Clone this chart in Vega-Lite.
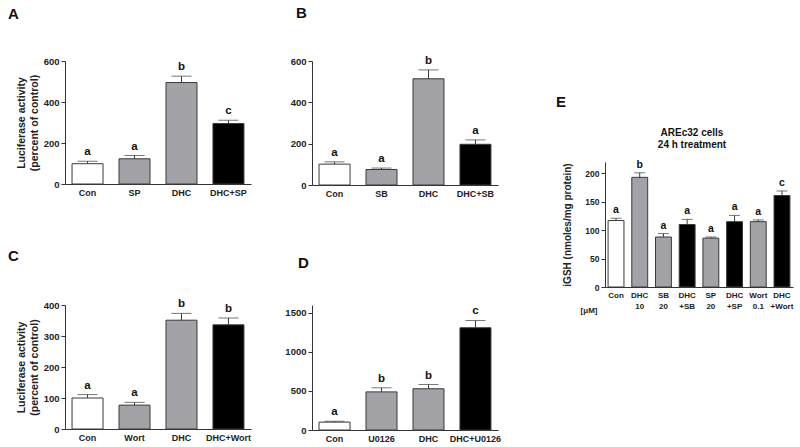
{
  "$schema": "https://vega.github.io/schema/vega-lite/v6.json",
  "background": "white",
  "padding": {"left": 8, "top": 5, "right": 5, "bottom": 5},
  "config": {
    "view": {"stroke": null},
    "font": "Liberation Sans",
    "axis": {"grid": false, "labelOverlap": false, "domainColor": "#333333", "tickColor": "#333333", "labelColor": "#222222", "titleColor": "#222222", "labelFont": "Liberation Sans", "titleFont": "Liberation Sans", "labelFontWeight": "bold", "titleFontWeight": "bold"},
    "title": {"font": "Liberation Sans", "fontWeight": "bold", "color": "#111111"}
  },
  "spacing": 55,
  "hconcat": [
    {
      "spacing": 33,
      "hconcat": [
        {
          "bounds": "flush",
          "spacing": 121,
          "vconcat": [
            {
              "width": 186, "height": 123,
              "title": {"text": "A", "anchor": "start", "frame": "group", "dx": -57, "offset": 22, "baseline": "alphabetic", "fontSize": 15},
              "data": {"values": [
                {"cat": "Con", "mean": 99, "upper": 111, "sig": "a", "kind": "control"},
                {"cat": "SP", "mean": 123, "upper": 139, "sig": "a", "kind": "single"},
                {"cat": "DHC", "mean": 495, "upper": 526, "sig": "b", "kind": "single"},
                {"cat": "DHC+SP", "mean": 295, "upper": 311, "sig": "c", "kind": "combo"}
              ]},
              "encoding": {"x": {"field": "cat", "type": "nominal", "sort": null, "scale": {"paddingInner": 0.34, "paddingOuter": 0.15}, "axis": {"title": null, "ticks": false, "labelAngle": 0, "labelFontSize": 9, "labelPadding": 4}}},
              "layer": [
                {"mark": {"type": "bar", "stroke": "#3a3a3a", "strokeWidth": 1},
                 "encoding": {
                   "y": {"field": "mean", "type": "quantitative", "scale": {"domain": [0, 600]}, "title": ["Luciferase activity", "(percent of control)"], "axis": {"values": [0, 200, 400, 600], "format": "d", "titleFontSize": 10.5, "titleLineHeight": 13, "titlePadding": 4, "labelFontSize": 9.5, "tickSize": 4, "labelPadding": 2}},
                   "fill": {"field": "kind", "type": "nominal", "scale": {"domain": ["control", "single", "combo"], "range": ["#ffffff", "#a2a2a7", "#000000"]}, "legend": null}}},
                {"mark": {"type": "rule", "color": "#3a3a3a"}, "encoding": {"y": {"field": "mean", "type": "quantitative", "title": ["Luciferase activity", "(percent of control)"], "axis": {"values": [0, 200, 400, 600], "format": "d", "titleFontSize": 10.5, "titleLineHeight": 13, "titlePadding": 4, "labelFontSize": 9.5, "tickSize": 4, "labelPadding": 2}}, "y2": {"field": "upper"}}},
                {"mark": {"type": "tick", "color": "#3a3a3a", "size": 20, "thickness": 1}, "encoding": {"y": {"field": "upper", "type": "quantitative", "title": ["Luciferase activity", "(percent of control)"], "axis": {"values": [0, 200, 400, 600], "format": "d", "titleFontSize": 10.5, "titleLineHeight": 13, "titlePadding": 4, "labelFontSize": 9.5, "tickSize": 4, "labelPadding": 2}}}},
                {"mark": {"type": "text", "fontWeight": "bold", "fontSize": 11.5, "baseline": "alphabetic", "dy": -6, "color": "#111111"}, "encoding": {"y": {"field": "upper", "type": "quantitative", "title": ["Luciferase activity", "(percent of control)"], "axis": {"values": [0, 200, 400, 600], "format": "d", "titleFontSize": 10.5, "titleLineHeight": 13, "titlePadding": 4, "labelFontSize": 9.5, "tickSize": 4, "labelPadding": 2}}, "text": {"field": "sig"}}}
              ]
            },
            {
              "width": 186, "height": 124,
              "title": {"text": "C", "anchor": "start", "frame": "group", "dx": -57, "offset": 22, "baseline": "alphabetic", "fontSize": 15},
              "data": {"values": [
                {"cat": "Con", "mean": 100, "upper": 111, "sig": "a", "kind": "control"},
                {"cat": "Wort", "mean": 77, "upper": 86, "sig": "a", "kind": "single"},
                {"cat": "DHC", "mean": 351, "upper": 373, "sig": "b", "kind": "single"},
                {"cat": "DHC+Wort", "mean": 336, "upper": 358, "sig": "b", "kind": "combo"}
              ]},
              "encoding": {"x": {"field": "cat", "type": "nominal", "sort": null, "scale": {"paddingInner": 0.34, "paddingOuter": 0.15}, "axis": {"title": null, "ticks": false, "labelAngle": 0, "labelFontSize": 9, "labelPadding": 4}}},
              "layer": [
                {"mark": {"type": "bar", "stroke": "#3a3a3a", "strokeWidth": 1},
                 "encoding": {
                   "y": {"field": "mean", "type": "quantitative", "scale": {"domain": [0, 400]}, "title": ["Luciferase activity", "(percent of control)"], "axis": {"values": [0, 100, 200, 300, 400], "format": "d", "titleFontSize": 10.5, "titleLineHeight": 13, "titlePadding": 4, "labelFontSize": 9.5, "tickSize": 4, "labelPadding": 2}},
                   "fill": {"field": "kind", "type": "nominal", "scale": {"domain": ["control", "single", "combo"], "range": ["#ffffff", "#a2a2a7", "#000000"]}, "legend": null}}},
                {"mark": {"type": "rule", "color": "#3a3a3a"}, "encoding": {"y": {"field": "mean", "type": "quantitative", "title": ["Luciferase activity", "(percent of control)"], "axis": {"values": [0, 100, 200, 300, 400], "format": "d", "titleFontSize": 10.5, "titleLineHeight": 13, "titlePadding": 4, "labelFontSize": 9.5, "tickSize": 4, "labelPadding": 2}}, "y2": {"field": "upper"}}},
                {"mark": {"type": "tick", "color": "#3a3a3a", "size": 20, "thickness": 1}, "encoding": {"y": {"field": "upper", "type": "quantitative", "title": ["Luciferase activity", "(percent of control)"], "axis": {"values": [0, 100, 200, 300, 400], "format": "d", "titleFontSize": 10.5, "titleLineHeight": 13, "titlePadding": 4, "labelFontSize": 9.5, "tickSize": 4, "labelPadding": 2}}}},
                {"mark": {"type": "text", "fontWeight": "bold", "fontSize": 11.5, "baseline": "alphabetic", "dy": -6, "color": "#111111"}, "encoding": {"y": {"field": "upper", "type": "quantitative", "title": ["Luciferase activity", "(percent of control)"], "axis": {"values": [0, 100, 200, 300, 400], "format": "d", "titleFontSize": 10.5, "titleLineHeight": 13, "titlePadding": 4, "labelFontSize": 9.5, "tickSize": 4, "labelPadding": 2}}, "text": {"field": "sig"}}}
              ]
            }
          ]
        },
        {
          "bounds": "flush",
          "spacing": 120,
          "vconcat": [
            {
              "width": 186, "height": 124,
              "title": {"text": "B", "anchor": "start", "frame": "group", "dx": -16, "offset": 22, "baseline": "alphabetic", "fontSize": 15},
              "data": {"values": [
                {"cat": "Con", "mean": 101, "upper": 112, "sig": "a", "kind": "control"},
                {"cat": "SB", "mean": 75, "upper": 82, "sig": "a", "kind": "single"},
                {"cat": "DHC", "mean": 514, "upper": 557, "sig": "b", "kind": "single"},
                {"cat": "DHC+SB", "mean": 197, "upper": 218, "sig": "a", "kind": "combo"}
              ]},
              "encoding": {"x": {"field": "cat", "type": "nominal", "sort": null, "scale": {"paddingInner": 0.34, "paddingOuter": 0.15}, "axis": {"title": null, "ticks": false, "labelAngle": 0, "labelFontSize": 9, "labelPadding": 4}}},
              "layer": [
                {"mark": {"type": "bar", "stroke": "#3a3a3a", "strokeWidth": 1},
                 "encoding": {
                   "y": {"field": "mean", "type": "quantitative", "scale": {"domain": [0, 600]}, "title": null, "axis": {"values": [0, 200, 400, 600], "format": "d", "labelFontSize": 9.5, "tickSize": 4, "labelPadding": 2}},
                   "fill": {"field": "kind", "type": "nominal", "scale": {"domain": ["control", "single", "combo"], "range": ["#ffffff", "#a2a2a7", "#000000"]}, "legend": null}}},
                {"mark": {"type": "rule", "color": "#3a3a3a"}, "encoding": {"y": {"field": "mean", "type": "quantitative", "title": null, "axis": {"values": [0, 200, 400, 600], "format": "d", "labelFontSize": 9.5, "tickSize": 4, "labelPadding": 2}}, "y2": {"field": "upper"}}},
                {"mark": {"type": "tick", "color": "#3a3a3a", "size": 20, "thickness": 1}, "encoding": {"y": {"field": "upper", "type": "quantitative", "title": null, "axis": {"values": [0, 200, 400, 600], "format": "d", "labelFontSize": 9.5, "tickSize": 4, "labelPadding": 2}}}},
                {"mark": {"type": "text", "fontWeight": "bold", "fontSize": 11.5, "baseline": "alphabetic", "dy": -6, "color": "#111111"}, "encoding": {"y": {"field": "upper", "type": "quantitative", "title": null, "axis": {"values": [0, 200, 400, 600], "format": "d", "labelFontSize": 9.5, "tickSize": 4, "labelPadding": 2}}, "text": {"field": "sig"}}}
              ]
            },
            {
              "width": 186, "height": 125,
              "title": {"text": "D", "anchor": "start", "frame": "group", "dx": -14, "offset": 22, "baseline": "alphabetic", "fontSize": 15},
              "data": {"values": [
                {"cat": "Con", "mean": 101, "upper": 112, "sig": "a", "kind": "control"},
                {"cat": "U0126", "mean": 488, "upper": 540, "sig": "b", "kind": "single"},
                {"cat": "DHC", "mean": 528, "upper": 582, "sig": "b", "kind": "single"},
                {"cat": "DHC+U0126", "mean": 1309, "upper": 1402, "sig": "c", "kind": "combo"}
              ]},
              "encoding": {"x": {"field": "cat", "type": "nominal", "sort": null, "scale": {"paddingInner": 0.34, "paddingOuter": 0.15}, "axis": {"title": null, "ticks": false, "labelAngle": 0, "labelFontSize": 9, "labelPadding": 4}}},
              "layer": [
                {"mark": {"type": "bar", "stroke": "#3a3a3a", "strokeWidth": 1},
                 "encoding": {
                   "y": {"field": "mean", "type": "quantitative", "scale": {"domain": [0, 1500]}, "title": null, "axis": {"values": [0, 500, 1000, 1500], "format": "d", "labelFontSize": 9.5, "tickSize": 4, "labelPadding": 2}},
                   "fill": {"field": "kind", "type": "nominal", "scale": {"domain": ["control", "single", "combo"], "range": ["#ffffff", "#a2a2a7", "#000000"]}, "legend": null}}},
                {"mark": {"type": "rule", "color": "#3a3a3a"}, "encoding": {"y": {"field": "mean", "type": "quantitative", "title": null, "axis": {"values": [0, 500, 1000, 1500], "format": "d", "labelFontSize": 9.5, "tickSize": 4, "labelPadding": 2}}, "y2": {"field": "upper"}}},
                {"mark": {"type": "tick", "color": "#3a3a3a", "size": 20, "thickness": 1}, "encoding": {"y": {"field": "upper", "type": "quantitative", "title": null, "axis": {"values": [0, 500, 1000, 1500], "format": "d", "labelFontSize": 9.5, "tickSize": 4, "labelPadding": 2}}}},
                {"mark": {"type": "text", "fontWeight": "bold", "fontSize": 11.5, "baseline": "alphabetic", "dy": -6, "color": "#111111"}, "encoding": {"y": {"field": "upper", "type": "quantitative", "title": null, "axis": {"values": [0, 500, 1000, 1500], "format": "d", "labelFontSize": 9.5, "tickSize": 4, "labelPadding": 2}}, "text": {"field": "sig"}}}
              ]
            }
          ]
        }
      ]
    },
    {
      "bounds": "flush",
      "spacing": 100,
      "vconcat": [
        {
          "width": 188, "height": 1,
          "title": {"text": "E", "orient": "bottom", "anchor": "start", "frame": "group", "dx": -49, "offset": 45, "baseline": "alphabetic", "fontSize": 15},
          "data": {"values": []},
          "mark": "point",
          "encoding": {}
        },
        {
          "width": 188, "height": 125,
          "title": {"text": ["AREc32 cells", "24 h treatment"], "anchor": "middle", "fontSize": 10, "lineHeight": 12, "offset": 10, "dx": -7},
          "data": {"values": [
            {"cat": "Con", "mean": 117, "upper": 121, "sig": "a", "kind": "control"},
            {"cat": "DHC|10", "mean": 193, "upper": 201, "sig": "b", "kind": "single"},
            {"cat": "SB|20", "mean": 88, "upper": 94, "sig": "a", "kind": "single"},
            {"cat": "DHC|+SB", "mean": 110, "upper": 119, "sig": "a", "kind": "combo"},
            {"cat": "SP|20", "mean": 86, "upper": 88, "sig": "a", "kind": "single"},
            {"cat": "DHC|+SP", "mean": 115, "upper": 126, "sig": "a", "kind": "combo"},
            {"cat": "Wort|0.1", "mean": 115, "upper": 118, "sig": "a", "kind": "single"},
            {"cat": "DHC|+Wort", "mean": 161, "upper": 169, "sig": "c", "kind": "combo"}
          ]},
          "encoding": {"x": {"field": "cat", "type": "nominal", "sort": null, "scale": {"paddingInner": 0.33, "paddingOuter": 0.13}, "axis": {"title": "[μM]", "titleAnchor": "start", "titleAlign": "right", "titleX": -8, "titleY": 25, "titleBaseline": "alphabetic", "titleFontSize": 8, "ticks": false, "labelAngle": 0, "labelFontSize": 8, "labelLineHeight": 11.5, "labelPadding": 4, "labelExpr": "split(datum.label, '|')"}}},
          "layer": [
            {"mark": {"type": "bar", "stroke": "#3a3a3a", "strokeWidth": 1},
             "encoding": {
               "y": {"field": "mean", "type": "quantitative", "scale": {"domain": [0, 208]}, "title": "iGSH (nmoles/mg protein)", "axis": {"values": [0, 50, 100, 150, 200], "format": "d", "titleFontSize": 10, "titlePadding": 12, "labelFontSize": 8.5, "tickSize": 4, "labelPadding": 2}},
               "fill": {"field": "kind", "type": "nominal", "scale": {"domain": ["control", "single", "combo"], "range": ["#ffffff", "#a2a2a7", "#000000"]}, "legend": null}}},
            {"mark": {"type": "rule", "color": "#3a3a3a"}, "encoding": {"y": {"field": "mean", "type": "quantitative", "title": "iGSH (nmoles/mg protein)", "axis": {"values": [0, 50, 100, 150, 200], "format": "d", "titleFontSize": 10, "titlePadding": 12, "labelFontSize": 8.5, "tickSize": 4, "labelPadding": 2}}, "y2": {"field": "upper"}}},
            {"mark": {"type": "tick", "color": "#3a3a3a", "size": 11, "thickness": 1}, "encoding": {"y": {"field": "upper", "type": "quantitative", "title": "iGSH (nmoles/mg protein)", "axis": {"values": [0, 50, 100, 150, 200], "format": "d", "titleFontSize": 10, "titlePadding": 12, "labelFontSize": 8.5, "tickSize": 4, "labelPadding": 2}}}},
            {"mark": {"type": "text", "fontWeight": "bold", "fontSize": 10.5, "baseline": "alphabetic", "dy": -5, "color": "#111111"}, "encoding": {"y": {"field": "upper", "type": "quantitative", "title": "iGSH (nmoles/mg protein)", "axis": {"values": [0, 50, 100, 150, 200], "format": "d", "titleFontSize": 10, "titlePadding": 12, "labelFontSize": 8.5, "tickSize": 4, "labelPadding": 2}}, "text": {"field": "sig"}}}
          ]
        }
      ]
    }
  ]
}
